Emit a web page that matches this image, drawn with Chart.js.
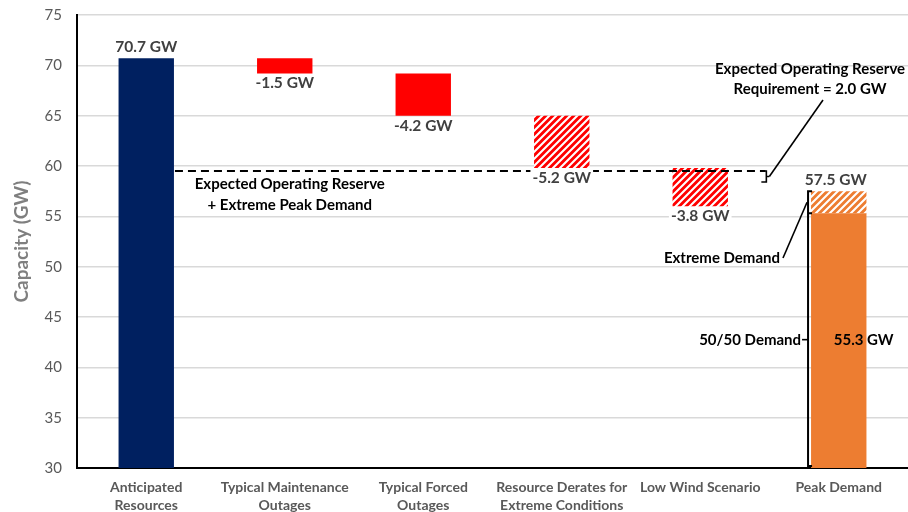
<!DOCTYPE html>
<html><head><meta charset="utf-8">
<script src="https://cdn.jsdelivr.net/npm/chart.js@4"></script>
<style>html,body{margin:0;padding:0;background:#fff;overflow:hidden}</style>
</head><body>
<canvas id="c" width="908" height="512"></canvas>
<script>
// ---- data ----
const categories = [["Anticipated","Resources"],["Typical Maintenance","Outages"],["Typical Forced","Outages"],["Resource Derates for","Extreme Conditions"],"Low Wind Scenario","Peak Demand"];
const solidLow  = [30, 69.2, 65.0, null, null, 30];
const solidHigh = [70.7, 70.7, 69.2, null, null, 55.3];
const hatchLow  = [null, null, null, 59.8, 56.0, 55.3];
const hatchHigh = [null, null, null, 65.0, 59.8, 57.5];
const barLabels = ["70.7 GW","-1.5 GW","-4.2 GW","-5.2 GW","-3.8 GW","57.5 GW"];
const labelAbove = [true, false, false, false, false, true];
const yTicks = [30,35,40,45,50,55,60,65,70,75];
const reserveLevel = 59.5;
const demandExtreme = 57.5;
const demand5050 = 55.3;
const axisMin = 30;

const FONT = 'Lato, "Open Sans", sans-serif';
const ctx0 = document.getElementById('c').getContext('2d');
function hatch(color){
  const p = 7, c = document.createElement('canvas'); c.width = p; c.height = p;
  const g = c.getContext('2d');
  g.fillStyle = color; g.fillRect(0,0,p,p);
  g.strokeStyle = '#fff'; g.lineWidth = 2.1; g.beginPath();
  g.moveTo(-1,p+1); g.lineTo(p+1,-1);
  g.moveTo(-p/2-1,p/2+1); g.lineTo(p/2+1,-p/2-1);
  g.moveTo(p/2-1,p*1.5+1); g.lineTo(p*1.5+1,p/2-1);
  g.stroke();
  return ctx0.createPattern(c,'repeat');
}
const solidColors = ['#002060','#FF0000','#FF0000',null,null,'#ED7D31'];
const hatchColors = [null,null,null,hatch('#FF0000'),hatch('#FF0000'),hatch('#ED7D31')];

function labelBox(ctx, text, cx, cy, color, bg){
  const w = ctx.measureText(text).width;
  if (bg){ ctx.fillStyle = '#fff'; ctx.fillRect(cx - w/2 - 2, cy - 8, w + 4, 16); }
  ctx.fillStyle = color; ctx.fillText(text, cx, cy);
}

const annot = {
  id: 'annot',
  afterDatasetsDraw(chart){
    const {ctx, scales:{x, y}} = chart;
    const step = x.getPixelForValue(1) - x.getPixelForValue(0);
    const bw = step * 0.4;
    ctx.save();
    ctx.strokeStyle = '#000'; ctx.lineWidth = 2;
    // dashed reserve line
    const yR = y.getPixelForValue(reserveLevel);
    const xs = x.getPixelForValue(0) + bw/2 + 1;
    const xe = x.getPixelForValue(4) + step*0.47;
    ctx.setLineDash([8,5]);
    ctx.beginPath(); ctx.moveTo(xs, yR); ctx.lineTo(xe, yR); ctx.stroke();
    ctx.setLineDash([]);
    // brace at end of the reserve line
    ctx.lineWidth = 1.6;
    ctx.beginPath();
    ctx.moveTo(xe-2, yR); ctx.lineTo(xe+1, yR); ctx.lineTo(xe+1, yR+11); ctx.lineTo(xe-4, yR+11);
    ctx.moveTo(xe+1, yR+5.5); ctx.lineTo(xe+4, yR+5.5);
    ctx.stroke();
    // leader to requirement label
    ctx.beginPath(); ctx.moveTo(xe+4, yR+5.5); ctx.lineTo(823, 100); ctx.stroke();

    // peak demand bracket
    const x5 = x.getPixelForValue(5);
    const xb = x5 - bw/2 - 3;
    const yE = y.getPixelForValue(demandExtreme);
    const yD = y.getPixelForValue(demand5050);
    const y0 = y.getPixelForValue(axisMin) - 2;
    ctx.lineWidth = 2;
    ctx.beginPath();
    ctx.moveTo(xb+4, yE); ctx.lineTo(xb, yE); ctx.lineTo(xb, y0); ctx.lineTo(xb+4, y0);
    ctx.moveTo(xb, yD); ctx.lineTo(xb+4, yD);
    ctx.stroke();
    // extreme demand leader
    ctx.lineWidth = 1.6;
    ctx.beginPath(); ctx.moveTo(xb-1, (yE+yD)/2); ctx.lineTo(783, 258); ctx.stroke();
    // 50/50 leader tick
    const yMid = (yD + y0)/2;
    ctx.beginPath(); ctx.moveTo(xb-6, yMid); ctx.lineTo(xb, yMid); ctx.stroke();

    // bar value labels
    ctx.font = 'bold 15.5px ' + FONT;
    ctx.textAlign = 'center'; ctx.textBaseline = 'middle';
    for (let i = 0; i < barLabels.length; i++){
      const lo = solidLow[i] ?? hatchLow[i];
      const hi = hatchHigh[i] ?? solidHigh[i];
      const top = Math.max(lo, hi), bot = Math.min(lo, hi);
      const cx = x.getPixelForValue(i) + (i === 5 ? -3 : 0);
      const cy = labelAbove[i] ? y.getPixelForValue(top) - 11 : y.getPixelForValue(bot) + 10;
      labelBox(ctx, barLabels[i], cx, cy, '#404040', true);
    }

    // annotation texts
    ctx.font = 'bold 15px ' + FONT;
    ctx.fillStyle = '#000';
    ctx.textAlign = 'center';
    const xc1 = x.getPixelForValue(1) + 5;
    ctx.fillText('Expected Operating Reserve', xc1, yR + 13);
    ctx.fillText('+ Extreme Peak Demand', xc1, yR + 34);
    ctx.fillText('Expected Operating Reserve', 810, 69);
    ctx.fillText('Requirement = 2.0 GW', 810, 89);
    ctx.textAlign = 'right';
    ctx.fillText('Extreme Demand', 780, 258);
    ctx.fillText('50/50 Demand', xb - 7, yMid);
    ctx.textAlign = 'left';
    ctx.fillText('55.3 GW', x5 - 5, yMid);
    ctx.restore();
  }
};

new Chart(ctx0, {
  type: 'bar',
  data: {
    labels: categories,
    datasets: [
      { data: solidLow.map((v,i) => v === null ? null : [v, solidHigh[i]]), backgroundColor: solidColors, borderWidth: 0 },
      { data: hatchLow.map((v,i) => v === null ? null : [v, hatchHigh[i]]), backgroundColor: hatchColors, borderWidth: 0 }
    ]
  },
  options: {
    responsive: false, animation: false, devicePixelRatio: 1,
    layout: { padding: { top: 15, right: 0, left: 0, bottom: 0 } },
    datasets: { bar: { grouped: false, barPercentage: 0.4, categoryPercentage: 1 } },
    plugins: { legend: { display: false }, tooltip: { enabled: false } },
    scales: {
      x: {
        grid: { display: false, drawTicks: false },
        border: { color: '#000', width: 2 },
        ticks: { color: '#595959', font: { family: FONT, size: 14, weight: 'bold', lineHeight: 1.28 }, padding: 11, maxRotation: 0, autoSkip: false },
        afterFit(s){ s.height = 44; }
      },
      y: {
        min: 30, max: 75,
        afterBuildTicks(s){ s.ticks = yTicks.map(v => ({ value: v })); },
        grid: { color: '#d9d9d9', lineWidth: 1.5, drawTicks: false },
        border: { color: '#000', width: 2 },
        ticks: { color: '#595959', font: { family: FONT, size: 15 }, padding: 15 },
        title: { display: true, text: 'Capacity (GW)', color: '#7f7f7f', font: { family: FONT, size: 19, weight: 'bold' }, padding: { top: 10, bottom: 0 } },
        afterFit(s){ s.width = 77; s.paddingTop = 0; s.paddingBottom = 0; }
      }
    }
  },
  plugins: [annot]
});
</script>
</body></html>
